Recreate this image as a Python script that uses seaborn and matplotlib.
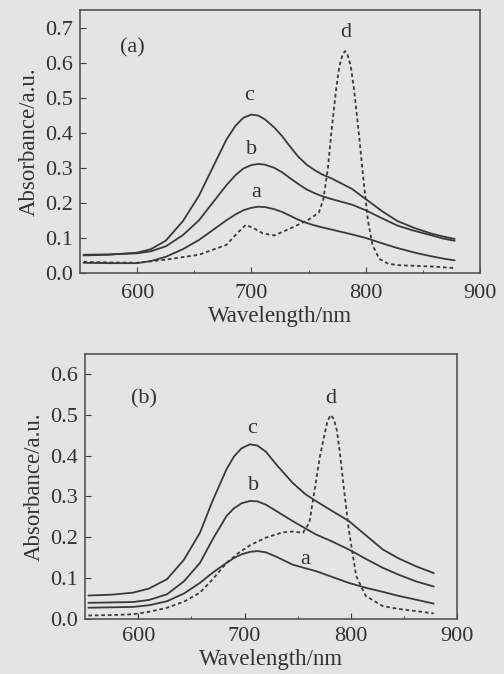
import pandas as pd
import matplotlib.pyplot as plt
import seaborn as sns

# Panel (a) spectra
wl_a = [553, 575, 600, 612, 625, 640, 654, 666, 678, 686, 693, 700, 706, 712, 720, 727, 734, 741, 748, 755, 762, 770, 779, 788, 800, 815, 828, 843, 857, 868, 878]
a_a = [0.029, 0.028, 0.028, 0.034, 0.046, 0.068, 0.094, 0.122, 0.15, 0.167, 0.179, 0.186, 0.189, 0.188, 0.182, 0.174, 0.163, 0.152, 0.143, 0.136, 0.13, 0.124, 0.117, 0.11, 0.10, 0.084, 0.071, 0.058, 0.048, 0.041, 0.036]
b_a = [0.052, 0.053, 0.056, 0.062, 0.076, 0.108, 0.15, 0.2, 0.25, 0.279, 0.298, 0.308, 0.311, 0.309, 0.3, 0.287, 0.27, 0.254, 0.239, 0.228, 0.219, 0.211, 0.203, 0.195, 0.179, 0.155, 0.135, 0.12, 0.108, 0.098, 0.092]
c_a = [0.05, 0.052, 0.058, 0.068, 0.092, 0.148, 0.22, 0.3, 0.38, 0.42, 0.443, 0.452, 0.449, 0.438, 0.415, 0.39, 0.36, 0.332, 0.31, 0.294, 0.281, 0.27, 0.255, 0.24, 0.211, 0.175, 0.148, 0.128, 0.113, 0.104, 0.097]
wl_da = [553, 575, 600, 625, 654, 678, 688, 695, 702, 710, 720, 736, 750, 759, 763, 767, 770, 774, 777, 780, 782, 784, 787, 790, 794, 798, 802, 806, 812, 820, 830, 845, 860, 878]
d_a = [0.032, 0.030, 0.029, 0.038, 0.052, 0.08, 0.115, 0.137, 0.128, 0.113, 0.107, 0.13, 0.152, 0.172, 0.21, 0.3, 0.4, 0.52, 0.59, 0.625, 0.633, 0.625, 0.59, 0.52, 0.4, 0.27, 0.15, 0.08, 0.04, 0.026, 0.022, 0.02, 0.018, 0.014]

# Panel (b) spectra
wl_b = [553, 575, 595, 610, 627, 643, 658, 670, 683, 690, 697, 705, 712, 720, 730, 745, 757, 767, 782, 798, 814, 830, 845, 861, 878]
a_b = [0.027, 0.028, 0.029, 0.033, 0.043, 0.062, 0.088, 0.113, 0.137, 0.149, 0.158, 0.164, 0.166, 0.163, 0.152, 0.133, 0.124, 0.117, 0.103, 0.088, 0.076, 0.066, 0.056, 0.047, 0.037]
b_b = [0.039, 0.040, 0.041, 0.046, 0.06, 0.092, 0.137, 0.195, 0.252, 0.271, 0.283, 0.289, 0.288, 0.28, 0.264, 0.24, 0.222, 0.207, 0.19, 0.17, 0.147, 0.125, 0.108, 0.092, 0.079]
c_b = [0.057, 0.059, 0.064, 0.074, 0.097, 0.145, 0.211, 0.29, 0.367, 0.398, 0.418, 0.428, 0.425, 0.41, 0.378, 0.334, 0.306, 0.289, 0.265, 0.24, 0.205, 0.17, 0.148, 0.129, 0.112]
wl_db = [553, 575, 595, 610, 627, 643, 658, 670, 683, 695, 705, 720, 736, 745, 755, 761, 767, 771, 775, 778, 781, 784, 787, 790, 793, 798, 805, 814, 830, 845, 861, 878]
d_b = [0.008, 0.009, 0.011, 0.017, 0.027, 0.042, 0.064, 0.097, 0.137, 0.163, 0.18, 0.199, 0.212, 0.214, 0.211, 0.236, 0.334, 0.4, 0.449, 0.485, 0.5, 0.49, 0.46, 0.4, 0.33, 0.219, 0.105, 0.056, 0.031, 0.024, 0.019, 0.013]

sns.set_style("ticks")
plt.rcParams["font.family"] = ["Liberation Serif", "DejaVu Serif"]
bg = "#e4e4e1"
ink = "#3a3a3a"
fs = 16

fig = plt.figure(figsize=(5.04, 6.74), dpi=100, facecolor=bg)
ax1 = fig.add_axes([0.159, 0.595, 0.793, 0.390])
ax2 = fig.add_axes([0.169, 0.082, 0.738, 0.393])


def draw(ax, wl, a, b, c, wl_d, d, xpad):
    df = pd.DataFrame({"wl": wl, "a": a, "b": b, "c": c}).melt("wl", var_name="s", value_name="abs")
    for name in ["a", "b", "c"]:
        sns.lineplot(data=df[df["s"] == name], x="wl", y="abs", ax=ax, color=ink, lw=1.3)
    dd = pd.DataFrame({"wl": wl_d, "abs": d})
    sns.lineplot(data=dd, x="wl", y="abs", ax=ax, color=ink, lw=1.3, linestyle=(0, (2, 1.6)))
    ax.set_facecolor(bg)
    ax.set_xlim(550, 900)
    ax.set_xticks([600, 700, 800, 900])
    ax.set_xticks([650, 750, 850], minor=True)
    ax.tick_params(axis="both", which="both", direction="in", labelsize=fs, colors=ink, labelcolor="#333333")
    ax.tick_params(which="major", length=4, pad=5)
    ax.tick_params(axis="x", which="major", pad=xpad)
    ax.tick_params(which="minor", length=2.5)
    for sp in ax.spines.values():
        sp.set_color("#555555")
        sp.set_linewidth(1.2)
    ax.set_xlabel("Wavelength/nm", fontsize=16.5, color="#333333", labelpad=2)
    ax.set_ylabel("Absorbance/a.u.", fontsize=16.5, color="#333333", labelpad=4)


draw(ax1, wl_a, a_a, b_a, c_a, wl_da, d_a, 8)
ax1.set_ylim(0, 0.75)
ax1.set_yticks([0.0, 0.1, 0.2, 0.3, 0.4, 0.5, 0.6, 0.7])
ax1.set_yticklabels(["0.0", "0.1", "0.2", "0.3", "0.4", "0.5", "0.6", "0.7"])
for t, x, y in [("(a)", 596, 0.643), ("c", 698, 0.505), ("b", 700, 0.352), ("a", 704, 0.23), ("d", 783, 0.686)]:
    ax1.text(x, y, t, fontsize=fs, color="#333333", ha="center", va="center")

draw(ax2, wl_b, a_b, b_b, c_b, wl_db, d_b, 6)
ax2.set_ylim(0, 0.65)
ax2.set_yticks([0.0, 0.1, 0.2, 0.3, 0.4, 0.5, 0.6])
ax2.set_yticklabels(["0.0", "0.1", "0.2", "0.3", "0.4", "0.5", "0.6"])
for t, x, y in [("(b)", 605, 0.539), ("c", 707, 0.467), ("b", 708, 0.326), ("a", 757, 0.146), ("d", 781, 0.54)]:
    ax2.text(x, y, t, fontsize=fs, color="#333333", ha="center", va="center")

fig.savefig("out.png", dpi=100, facecolor=bg)
